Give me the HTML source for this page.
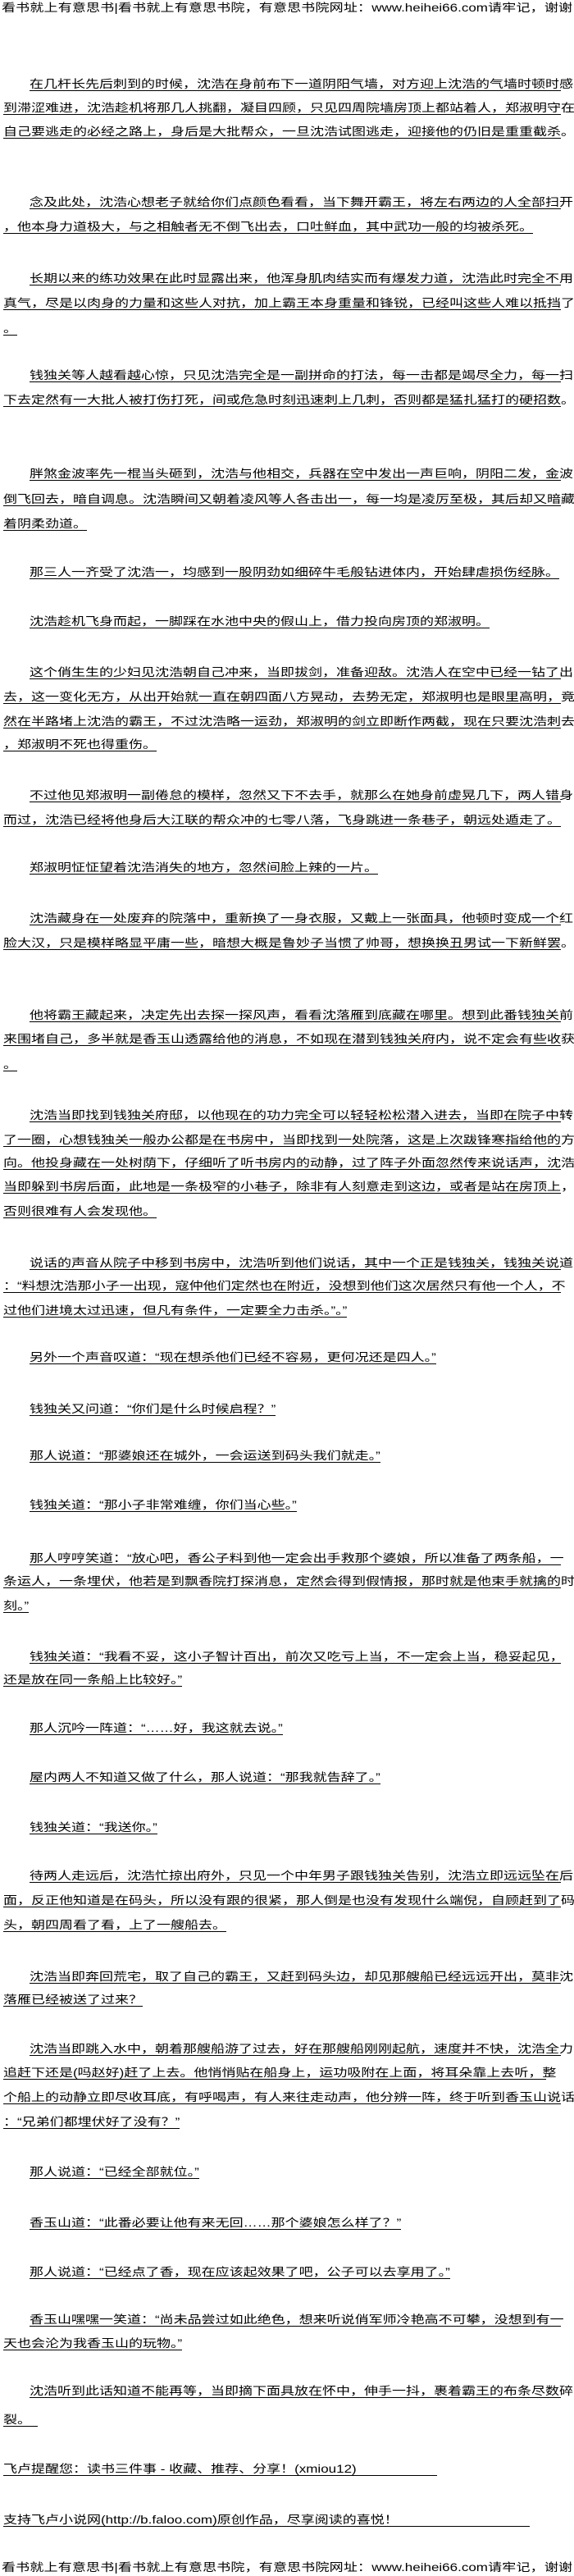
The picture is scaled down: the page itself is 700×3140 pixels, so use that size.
<!DOCTYPE html>
<html><head><meta charset="utf-8">
<style>
html,body{margin:0;padding:0;background:#fff;}
body{width:700px;height:3140px;position:relative;overflow:hidden;font-family:"Liberation Sans","Noto Sans CJK SC","WenQuanYi Zen Hei",sans-serif;color:#000;}
.l{position:absolute;height:15px;line-height:15px;font-size:17px;white-space:nowrap;border-bottom:1px solid #000;}
.l span{display:inline-block;transform:scaleY(.8);transform-origin:50% 50%;}
.i{left:36px}
.c{left:4px}
.j span{display:block;text-align:justify;text-align-last:justify;}
.i.j{width:648px}
.c.j{width:680px}
.h{border-bottom:none;left:2px;width:696px}
</style></head><body>
<div class="l h j" style="top:2px"><span>看书就上有意思书|看书就上有意思书院，有意思书院网址：www.heihei66.com请牢记，谢谢</span></div>

<div class="l i j" style="top:95px"><span>在几杆长先后刺到的时候，沈浩在身前布下一道阴阳气墙，对方迎上沈浩的气墙时顿时感</span></div>
<div class="l c j" style="top:124px"><span>到滞涩难进，沈浩趁机将那几人挑翻，凝目四顾，只见四周院墙房顶上都站着人，郑淑明守在</span></div>
<div class="l c j" style="top:153px"><span>自己要逃走的必经之路上，身后是大批帮众，一旦沈浩试图逃走，迎接他的仍旧是重重截杀。</span></div>

<div class="l i j" style="top:239px"><span>念及此处，沈浩心想老子就给你们点颜色看看，当下舞开霸王，将左右两边的人全部扫开</span></div>
<div class="l c" style="top:269px"><span>，他本身力道极大，与之相触者无不倒飞出去，口吐鲜血，其中武功一般的均被杀死。</span></div>

<div class="l i j" style="top:332px"><span>长期以来的练功效果在此时显露出来，他浑身肌肉结实而有爆发力道，沈浩此时完全不用</span></div>
<div class="l c j" style="top:362px"><span>真气，尽是以肉身的力量和这些人对抗，加上霸王本身重量和锋锐，已经叫这些人难以抵挡了</span></div>
<div class="l c" style="top:393px"><span>。</span></div>

<div class="l i j" style="top:450px"><span>钱独关等人越看越心惊，只见沈浩完全是一副拼命的打法，每一击都是竭尽全力，每一扫</span></div>
<div class="l c j" style="top:480px"><span>下去定然有一大批人被打伤打死，间或危急时刻迅速刺上几刺，否则都是猛扎猛打的硬招数。</span></div>

<div class="l i j" style="top:570px"><span>胖煞金波率先一棍当头砸到，沈浩与他相交，兵器在空中发出一声巨响，阴阳二发，金波</span></div>
<div class="l c j" style="top:601px"><span>倒飞回去，暗自调息。沈浩瞬间又朝着凌风等人各击出一，每一均是凌厉至极，其后却又暗藏</span></div>
<div class="l c" style="top:631px"><span>着阴柔劲道。</span></div>

<div class="l i" style="top:690px"><span>那三人一齐受了沈浩一，均感到一股阴劲如细碎牛毛般钻进体内，开始肆虐损伤经脉。</span></div>

<div class="l i" style="top:750px"><span>沈浩趁机飞身而起，一脚踩在水池中央的假山上，借力投向房顶的郑淑明。</span></div>

<div class="l i j" style="top:812px"><span>这个俏生生的少妇见沈浩朝自己冲来，当即拔剑，准备迎敌。沈浩人在空中已经一钻了出</span></div>
<div class="l c j" style="top:842px"><span>去，这一变化无方，从出开始就一直在朝四面八方晃动，去势无定，郑淑明也是眼里高明，竟</span></div>
<div class="l c j" style="top:872px"><span>然在半路堵上沈浩的霸王，不过沈浩略一运劲，郑淑明的剑立即断作两截，现在只要沈浩刺去</span></div>
<div class="l c" style="top:900px"><span>，郑淑明不死也得重伤。</span></div>

<div class="l i j" style="top:962px"><span>不过他见郑淑明一副倦怠的模样，忽然又下不去手，就那么在她身前虚晃几下，两人错身</span></div>
<div class="l c" style="top:992px"><span>而过，沈浩已经将他身后大江联的帮众冲的七零八落，飞身跳进一条巷子，朝远处遁走了。</span></div>

<div class="l i" style="top:1050px"><span>郑淑明怔怔望着沈浩消失的地方，忽然间脸上辣的一片。</span></div>

<div class="l i j" style="top:1112px"><span>沈浩藏身在一处废弃的院落中，重新换了一身衣服，又戴上一张面具，他顿时变成一个红</span></div>
<div class="l c j" style="top:1142px"><span>脸大汉，只是模样略显平庸一些，暗想大概是鲁妙子当惯了帅哥，想换换丑男试一下新鲜罢。</span></div>

<div class="l i j" style="top:1230px"><span>他将霸王藏起来，决定先出去探一探风声，看看沈落雁到底藏在哪里。想到此番钱独关前</span></div>
<div class="l c j" style="top:1259px"><span>来围堵自己，多半就是香玉山透露给他的消息，不如现在潜到钱独关府内，说不定会有些收获</span></div>
<div class="l c" style="top:1290px"><span>。</span></div>

<div class="l i j" style="top:1352px"><span>沈浩当即找到钱独关府邸，以他现在的功力完全可以轻轻松松潜入进去，当即在院子中转</span></div>
<div class="l c j" style="top:1382px"><span>了一圈，心想钱独关一般办公都是在书房中，当即找到一处院落，这是上次跋锋寒指给他的方</span></div>
<div class="l c j" style="top:1410px"><span>向。他投身藏在一处树荫下，仔细听了听书房内的动静，过了阵子外面忽然传来说话声，沈浩</span></div>
<div class="l c j" style="top:1439px"><span>当即躲到书房后面，此地是一条极窄的小巷子，除非有人刻意走到这边，或者是站在房顶上，</span></div>
<div class="l c" style="top:1469px"><span>否则很难有人会发现他。</span></div>

<div class="l i j" style="top:1532px"><span>说话的声音从院子中移到书房中，沈浩听到他们说话，其中一个正是钱独关，钱独关说道</span></div>
<div class="l c j" style="top:1560px"><span>：“料想沈浩那小子一出现，寇仲他们定然也在附近，没想到他们这次居然只有他一个人，不</span></div>
<div class="l c" style="top:1590px"><span>过他们进境太过迅速，但凡有条件，一定要全力击杀。”。”</span></div>

<div class="l i" style="top:1647px"><span>另外一个声音叹道：“现在想杀他们已经不容易，更何况还是四人。”</span></div>
<div class="l i" style="top:1710px"><span>钱独关又问道：“你们是什么时候启程？”</span></div>
<div class="l i" style="top:1767px"><span>那人说道：“那婆娘还在城外，一会运送到码头我们就走。”</span></div>
<div class="l i" style="top:1827px"><span>钱独关道：“那小子非常难缠，你们当心些。”</span></div>

<div class="l i j" style="top:1892px"><span>那人哼哼笑道：“放心吧，香公子料到他一定会出手救那个婆娘，所以准备了两条船，一</span></div>
<div class="l c j" style="top:1920px"><span>条运人，一条埋伏，他若是到飘香院打探消息，定然会得到假情报，那时就是他束手就擒的时</span></div>
<div class="l c" style="top:1950px"><span>刻。”</span></div>

<div class="l i j" style="top:2012px"><span>钱独关道：“我看不妥，这小子智计百出，前次又吃亏上当，不一定会上当，稳妥起见，</span></div>
<div class="l c" style="top:2040px"><span>还是放在同一条船上比较好。”</span></div>

<div class="l i" style="top:2099px"><span>那人沉吟一阵道：“……好，我这就去说。”</span></div>
<div class="l i" style="top:2159px"><span>屋内两人不知道又做了什么，那人说道：“那我就告辞了。”</span></div>
<div class="l i" style="top:2220px"><span>钱独关道：“我送你。”</span></div>

<div class="l i j" style="top:2279px"><span>待两人走远后，沈浩忙掠出府外，只见一个中年男子跟钱独关告别，沈浩立即远远坠在后</span></div>
<div class="l c j" style="top:2309px"><span>面，反正他知道是在码头，所以没有跟的很紧，那人倒是也没有发现什么端倪，自顾赶到了码</span></div>
<div class="l c" style="top:2339px"><span>头，朝四周看了看，上了一艘船去。</span></div>

<div class="l i j" style="top:2402px"><span>沈浩当即奔回荒宅，取了自己的霸王，又赶到码头边，却见那艘船已经远远开出，莫非沈</span></div>
<div class="l c" style="top:2430px"><span>落雁已经被送了过来？</span></div>

<div class="l i j" style="top:2490px"><span>沈浩当即跳入水中，朝着那艘船游了过去，好在那艘船刚刚起航，速度并不快，沈浩全力</span></div>
<div class="l c j" style="top:2519px;width:662px"><span>追赶下还是(吗赵好)赶了上去。他悄悄贴在船身上，运功吸附在上面，将耳朵靠上去听，整</span></div>
<div class="l c j" style="top:2549px"><span>个船上的动静立即尽收耳底，有呼喝声，有人来往走动声，他分辨一阵，终于听到香玉山说话</span></div>
<div class="l c" style="top:2579px"><span>：“兄弟们都埋伏好了没有？”</span></div>

<div class="l i" style="top:2640px"><span>那人说道：“已经全部就位。”</span></div>
<div class="l i" style="top:2702px"><span>香玉山道：“此番必要让他有来无回……那个婆娘怎么样了？”</span></div>
<div class="l i" style="top:2762px"><span>那人说道：“已经点了香，现在应该起效果了吧，公子可以去享用了。”</span></div>

<div class="l i j" style="top:2820px"><span>香玉山嘿嘿一笑道：“尚未品尝过如此绝色，想来听说俏军师冷艳高不可攀，没想到有一</span></div>
<div class="l c" style="top:2849px"><span>天也会沦为我香玉山的玩物。”</span></div>

<div class="l i j" style="top:2907px"><span>沈浩听到此话知道不能再等，当即摘下面具放在怀中，伸手一抖，裹着霸王的布条尽数碎</span></div>
<div class="l c" style="top:2942px;width:42px"><span>裂。</span></div>

<div class="l c" style="top:3002px;width:529px"><span>飞卢提醒您：读书三件事 - 收藏、推荐、分享！(xmiou12)</span></div>
<div class="l c" style="top:3064px;width:642px"><span>支持飞卢小说网(http://b.faloo.com)原创作品，尽享阅读的喜悦！</span></div>

<div class="l h j" style="top:3122px"><span>看书就上有意思书|看书就上有意思书院，有意思书院网址：www.heihei66.com请牢记，谢谢</span></div>
</body></html>
